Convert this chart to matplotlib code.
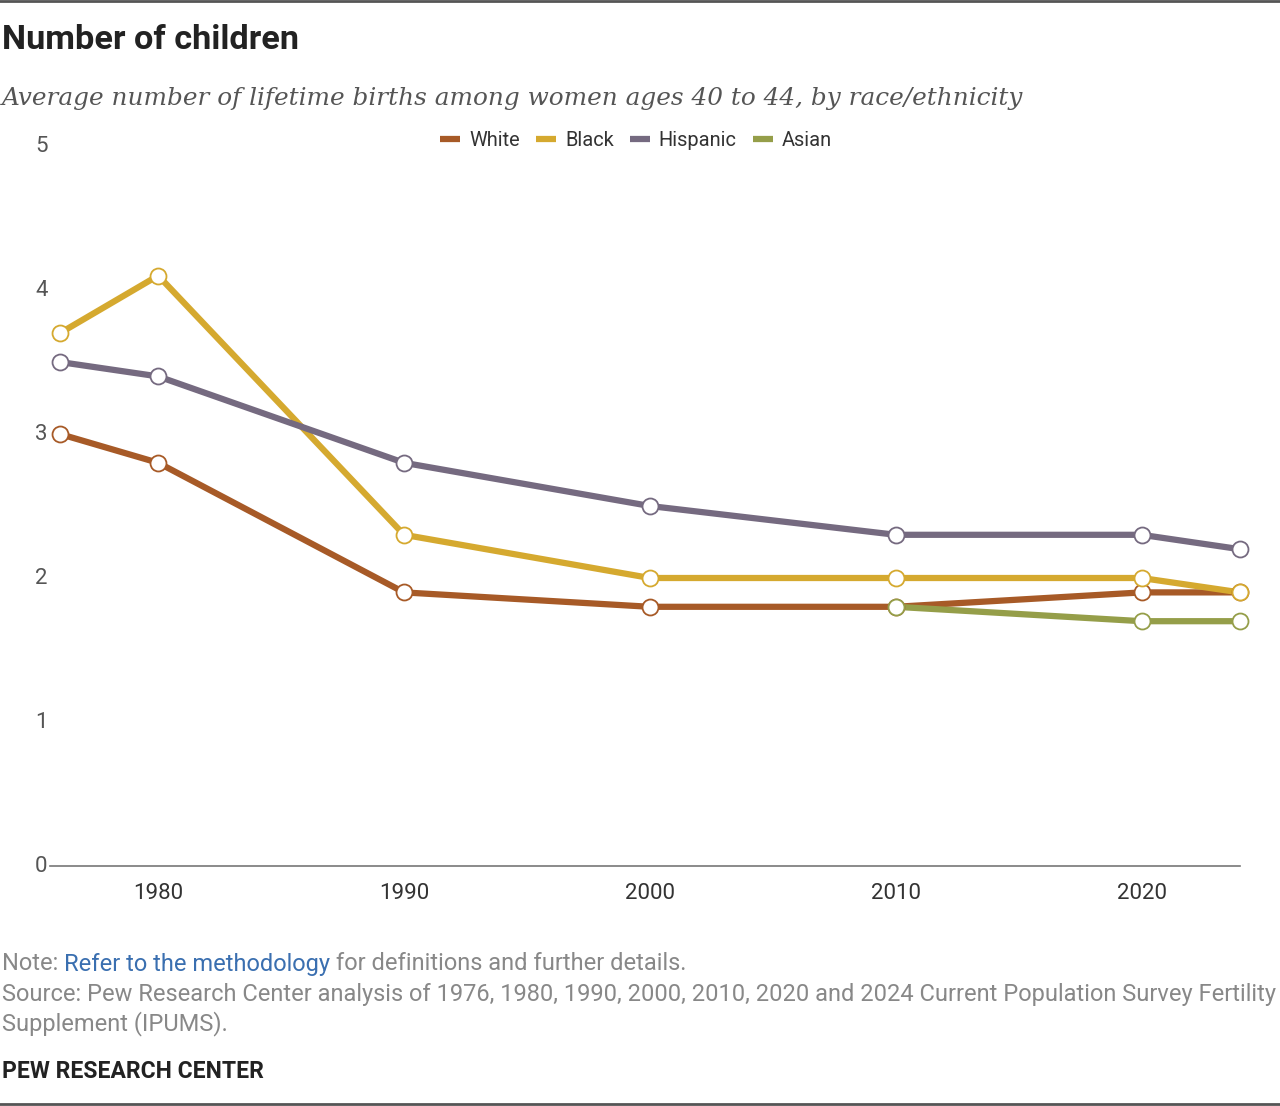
import matplotlib
matplotlib.use("Agg")
import matplotlib.pyplot as plt
from matplotlib import font_manager

years = [1976, 1980, 1990, 2000, 2010, 2020, 2024]
white = [3.0, 2.8, 1.9, 1.8, 1.8, 1.9, 1.9]
black = [3.7, 4.1, 2.3, 2.0, 2.0, 2.0, 1.9]
hispanic = [3.5, 3.4, 2.8, 2.5, 2.3, 2.3, 2.2]
asian_years = [2010, 2020, 2024]
asian = [1.8, 1.7, 1.7]
xticks = [1980, 1990, 2000, 2010, 2020]
yticks = [0, 1, 2, 3, 4, 5]

names = {f.name for f in font_manager.fontManager.ttflist}
sans = "Roboto" if "Roboto" in names else "DejaVu Sans"
serif = "DejaVu Serif"

W, H = 1280, 1106
fig = plt.figure(figsize=(W/100, H/100), dpi=100)
ax = fig.add_axes([50/W, 1-866/H, (1240-50)/W, (866-146)/H])

cols = {"White": "#A75A27", "Black": "#D5A92F", "Hispanic": "#756A80", "Asian": "#959E49"}
series = [("White", years, white), ("Black", years, black),
          ("Hispanic", years, hispanic), ("Asian", asian_years, asian)]
for i, (nm, xs, ys) in enumerate(series):
    ax.plot(xs, ys, color=cols[nm], lw=4.5, solid_capstyle="butt", zorder=2+i, clip_on=False,
            label=nm)
for i, (nm, xs, ys) in enumerate(series):
    ax.plot(xs, ys, ls="none", marker="o", ms=11.5, mfc="white", mec=cols[nm], mew=1.3,
            zorder=10+i, clip_on=False)

ax.set_xlim(1975.6, 2024)
ax.set_ylim(0, 5)
for s in ["top", "right", "left"]:
    ax.spines[s].set_visible(False)
ax.spines["bottom"].set_color("#777777")
ax.spines["bottom"].set_linewidth(1.2)
ax.set_yticks([])
ax.set_xticks(xticks)
ax.set_xticklabels([str(t) for t in xticks], fontsize=16, color="#333333", family=sans)
ax.tick_params(axis="x", length=0, pad=12)
for t in yticks:
    ax.text(-0.002, t, str(t), transform=ax.get_yaxis_transform(), ha="right", va="center",
            fontsize=16, color="#555555", family=sans)

leg = ax.legend(loc="upper center", bbox_to_anchor=(636/W, 1-131/H), bbox_transform=fig.transFigure,
                ncol=4, frameon=False, handlelength=1.0, handletextpad=0.45, columnspacing=0.8,
                prop={"family": sans, "size": 14.4}, borderaxespad=0, borderpad=0)
for txt in leg.get_texts():
    txt.set_color("#333333")
for h in leg.get_lines():
    h.set_linewidth(4.5)

fig.text(2/W, 1-40/H, "Number of children", fontsize=24.7, fontweight="bold", family=sans,
         color="#222222", va="center")
fig.text(2/W, 1-98/H, "Average number of lifetime births among women ages 40 to 44, by race/ethnicity",
         fontsize=17.8, style="italic", family=serif, color="#555555", va="center")

fs = 17
y1 = 1-964/H
t1 = fig.text(2/W, y1, "Note: ", fontsize=fs, family=sans, color="#888888", va="center")
fig.canvas.draw()
r = fig.canvas.get_renderer()
bb = t1.get_window_extent(r)
t2 = fig.text(bb.x1/W, y1, "Refer to the methodology", fontsize=fs, family=sans, color="#3A6FB0", va="center")
bb2 = t2.get_window_extent(r)
fig.text(bb2.x1/W, y1, " for definitions and further details.", fontsize=fs, family=sans,
         color="#888888", va="center")
fig.text(2/W, 1-994/H, "Source: Pew Research Center analysis of 1976, 1980, 1990, 2000, 2010, 2020 and 2024 Current Population Survey Fertility",
         fontsize=fs, family=sans, color="#888888", va="center")
fig.text(2/W, 1-1024/H, "Supplement (IPUMS).", fontsize=fs, family=sans, color="#888888", va="center")
fig.text(2/W, 1-1072/H, "PEW RESEARCH CENTER", fontsize=16.5, family=sans, color="#222222",
         fontweight="bold", va="center")

fig.add_artist(plt.Line2D([0, 1], [1-1/H, 1-1/H], color="#555555", lw=2, transform=fig.transFigure))
fig.add_artist(plt.Line2D([0, 1], [1-1104/H, 1-1104/H], color="#555555", lw=2, transform=fig.transFigure))

fig.savefig("out.png", dpi=100)
